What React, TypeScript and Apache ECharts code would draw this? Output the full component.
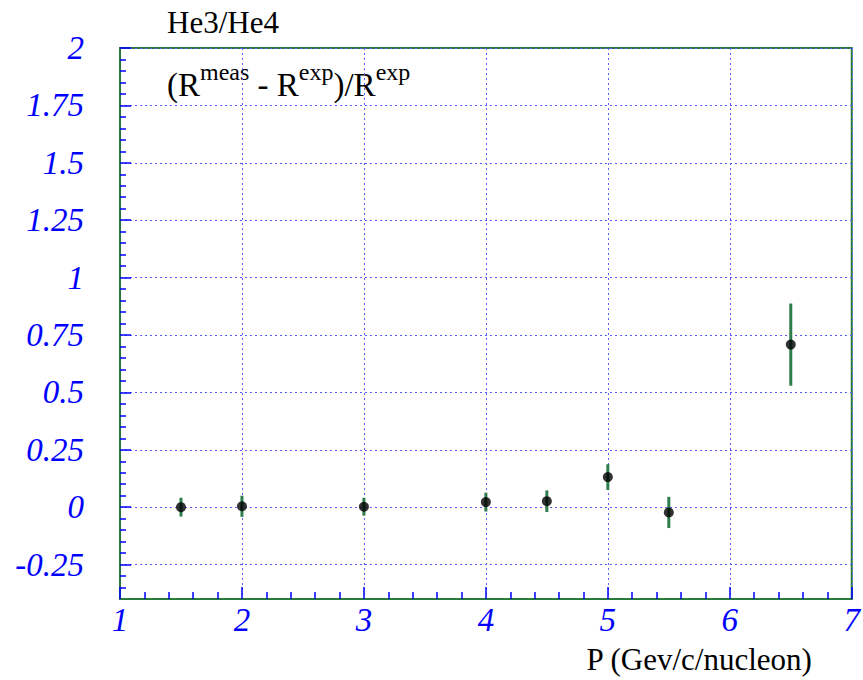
import React, { useEffect, useRef } from "react";
import * as echarts from "echarts";

const xValues = [1.5, 2, 3, 4, 4.5, 5, 5.5, 6.5];
const yValues = [0.0, 0.004, 0.002, 0.022, 0.026, 0.131, -0.023, 0.708];
const yErrors = [0.041, 0.046, 0.039, 0.041, 0.047, 0.056, 0.068, 0.179];
const yTickValues = [-0.25, 0, 0.25, 0.5, 0.75, 1, 1.25, 1.5, 1.75, 2];
const yTickLabels = ["-0.25", "0", "0.25", "0.5", "0.75", "1", "1.25", "1.5", "1.75", "2"];
const xTickLabels = ["1", "2", "3", "4", "5", "6", "7"];

const yMinorTicks: number[] = [];
for (let k = -7; k <= 40; k++) {
  if (k % 5 !== 0) yMinorTicks.push(Math.round(k * 5) / 100);
}

const BLUE = "#0000ff";
const GRID_BLUE = "#5a5aff";
const FRAME = "#2b7a3d";
const ERR = "#2e7d4c";
const SERIF = "Liberation Serif";

export default function App() {
  const ref = useRef<HTMLDivElement>(null);
  useEffect(() => {
    if (!ref.current) return;
    const chart = echarts.init(ref.current, undefined, { renderer: "svg" });
    const labelStyle = {
      color: BLUE,
      fontFamily: SERIF,
      fontStyle: "italic" as const,
      fontSize: 33,
    };
    chart.setOption({
      animation: false,
      backgroundColor: "#ffffff",
      grid: {
        left: 120,
        right: 11,
        top: 48,
        bottom: 81,
        containLabel: false,
        show: true,
        borderColor: FRAME,
        borderWidth: 2,
      },
      xAxis: {
        type: "value",
        min: 1,
        max: 7,
        interval: 1,
        axisLine: { show: true, onZero: false, lineStyle: { color: FRAME, width: 2 } },
        axisTick: { show: true, inside: true, length: 12, lineStyle: { color: BLUE, width: 1.5 } },
        minorTick: { show: true, splitNumber: 5, length: 7, lineStyle: { color: BLUE, width: 1.5 } },
        splitLine: { show: true, lineStyle: { color: GRID_BLUE, type: [2, 3], width: 1 } },
        axisLabel: {
          ...labelStyle,
          margin: 4,
          showMinLabel: true,
          showMaxLabel: true,
          formatter: (v: number) => xTickLabels[Math.round(v) - 1] ?? "",
        },
      },
      yAxis: [
        {
          type: "value",
          min: -0.4,
          max: 2,
          axisLine: { show: true, onZero: false, lineStyle: { color: FRAME, width: 2 } },
          axisTick: {
            show: true,
            inside: true,
            length: 11,
            customValues: yTickValues,
            lineStyle: { color: BLUE, width: 1.5 },
          },
          splitLine: { show: true, lineStyle: { color: GRID_BLUE, type: [2, 3], width: 1 } },
          axisLabel: {
            ...labelStyle,
            margin: 36,
            customValues: yTickValues,
            formatter: (v: number) => {
              const i = yTickValues.findIndex((t) => Math.abs(t - v) < 1e-6);
              return i >= 0 ? yTickLabels[i] : "";
            },
          },
        },
        {
          type: "value",
          min: -0.4,
          max: 2,
          position: "left",
          axisLine: { show: false, onZero: false },
          axisLabel: { show: false, customValues: yMinorTicks },
          splitLine: { show: false },
          axisTick: {
            show: true,
            inside: true,
            length: 6,
            customValues: yMinorTicks,
            lineStyle: { color: BLUE, width: 1.5 },
          },
        },
      ],
      graphic: [
        {
          type: "text",
          left: 167,
          top: 7,
          style: { text: "He3/He4", fontFamily: SERIF, fontSize: 31, fill: "#000" },
        },
        {
          type: "text",
          left: 167,
          top: 60,
          style: {
            text: "{m|(R}{s|meas}{m| - R}{s|exp}{m|)/R}{s|exp}",
            fill: "#000",
            rich: {
              m: { fontFamily: SERIF, fontSize: 33, lineHeight: 41.5, verticalAlign: "bottom", fill: "#000" },
              s: { fontFamily: SERIF, fontSize: 24, lineHeight: 24, verticalAlign: "top", fill: "#000" },
            },
          },
        },
        {
          type: "text",
          right: 50,
          top: 644,
          style: { text: "P (Gev/c/nucleon)", fontFamily: SERIF, fontSize: 31, fill: "#000" },
        },
      ],
      series: [
        {
          type: "custom",
          yAxisIndex: 0,
          data: xValues.map((x, i) => [x, yValues[i] - yErrors[i], yValues[i] + yErrors[i]]),
          encode: { x: 0, y: [1, 2] },
          renderItem: (_params: any, api: any) => {
            const lo = api.coord([api.value(0), api.value(1)]);
            const hi = api.coord([api.value(0), api.value(2)]);
            return {
              type: "line",
              shape: { x1: lo[0], y1: lo[1], x2: hi[0], y2: hi[1] },
              style: { stroke: ERR, lineWidth: 3 },
            };
          },
          z: 3,
        },
        {
          type: "scatter",
          yAxisIndex: 0,
          data: xValues.map((x, i) => [x, yValues[i]]),
          symbol: "circle",
          symbolSize: 10,
          itemStyle: { color: "#000" },
          z: 4,
        },
      ],
    });
    return () => chart.dispose();
  }, []);
  return (
    <div
      ref={ref}
      style={{ position: "fixed", left: 0, top: 0, width: 863, height: 680, background: "#fff" }}
    />
  );
}
